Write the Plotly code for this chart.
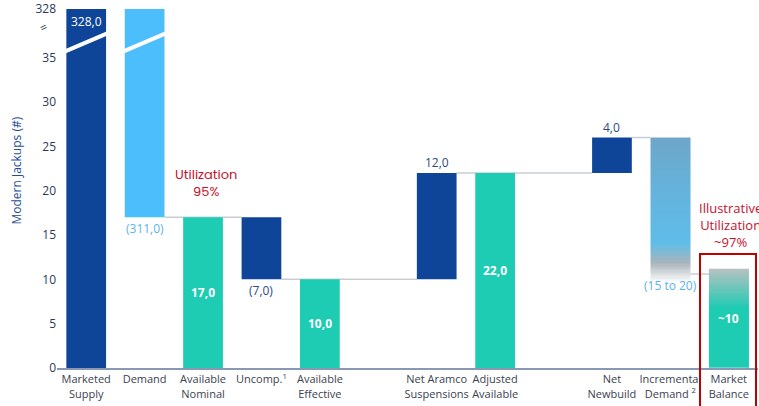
import plotly.graph_objects as go
import numpy as np

# ---- data ----
categories = ["Marketed<br>Supply", "Demand", "Available<br>Nominal", "Uncomp.<sup>1</sup>",
              "Available<br>Effective", "Net Aramco<br>Suspensions", "Adjusted<br>Available",
              "Net<br>Newbuild", "Incremental<br>Demand <sup>2</sup>", "Market<br>Balance"]
positions = [0, 1, 2, 3, 4, 6, 7, 9, 10, 11]
value_labels = ["328,0", "(311,0)", "17,0", "(7,0)", "10,0", "12,0", "22,0", "4,0", "(15 to 20)", "~10"]
# displayed (broken-axis) bar extents
bar_bottom = [0, 17, 0, 10, 0, 10, 0, 22, 9.6, 0]
bar_top = [40.5, 40.5, 17, 17, 10, 22, 22, 26, 26, 11.2]
bar_kind = ["dark", "light", "teal", "dark", "teal", "dark", "teal", "dark", "grad_blue", "grad_teal"]
label_place = ["top_in", "below", "mid", "below", "mid", "above", "mid", "above", "below", "mid"]
y_ticks = [0, 5, 10, 15, 20, 25, 30, 35, 40.5]
y_ticktext = ["0", "5", "10", "15", "20", "25", "30", "35", "328"]
connector_from = [1, 3, 5, 7, 8]   # index in lists
connector_to = [3, 5, 7, 8, 9]
connector_level = [17, 10, 22, 26, 10.6]

DARK = "#0e4598"
LIGHT = "#4cbefc"
TEAL = "#1ecbb3"
W = 0.68
colors = {"dark": DARK, "light": LIGHT, "teal": TEAL}

fig = go.Figure()

# solid bars
for k in ["dark", "light", "teal"]:
    idx = [i for i, b in enumerate(bar_kind) if b == k]
    fig.add_trace(go.Bar(
        x=[positions[i] for i in idx],
        y=[bar_top[i] - bar_bottom[i] for i in idx],
        base=[bar_bottom[i] for i in idx],
        width=W, marker=dict(color=colors[k], line=dict(width=0)),
        hoverinfo="skip", showlegend=False))

# gradient bars via heatmap
def grad_bar(i, colorscale):
    n = 120
    y_edges = np.linspace(bar_bottom[i], bar_top[i], n + 1)
    yc = (y_edges[:-1] + y_edges[1:]) / 2
    z = [[v, v] for v in yc]
    x_edges = [positions[i] - W / 2, positions[i], positions[i] + W / 2]
    fig.add_trace(go.Heatmap(x=x_edges, y=y_edges, z=z, colorscale=colorscale,
                             zmin=bar_bottom[i], zmax=bar_top[i], showscale=False,
                             hoverinfo="skip", zsmooth=False))

grad_bar(8, [[0, "#ffffff"], [0.134, "#aab4ba"], [0.27, "#5fbde8"], [0.6, "#64b4de"], [1, "#6ea6c8"]])
grad_bar(9, [[0, TEAL], [0.6, TEAL], [1, "#b8c1c2"]])

shapes = []
# connectors
for a, b, lv in zip(connector_from, connector_to, connector_level):
    shapes.append(dict(type="line", xref="x", yref="y", x0=positions[a] + W / 2, x1=positions[b] - W / 2,
                       y0=lv, y1=lv, line=dict(color="#c9cdd3", width=1.5), layer="below"))
# axis break marks across first two bars
for p in [positions[0], positions[1]]:
    shapes.append(dict(type="line", xref="x", yref="y", x0=p - 0.40, x1=p + 0.38,
                       y0=35.6, y1=37.8, line=dict(color="white", width=4), layer="above"))
# red box around market balance
shapes.append(dict(type="rect", xref="paper", yref="paper", x0=(700 - 57) / 701, x1=(756 - 57) / 701,
                   y0=-0.2, y1=(368 - 254) / 359, line=dict(color="#c00000", width=2),
                   fillcolor="rgba(0,0,0,0)"))

ann = []
for i, lab in enumerate(value_labels):
    pl = label_place[i]
    x = positions[i]
    if pl == "mid":
        ann.append(dict(x=x, y=(bar_bottom[i] + bar_top[i]) / 2, text="<b>" + lab + "</b>",
                        showarrow=False, font=dict(color="white", size=12)))
    elif pl == "top_in":
        ann.append(dict(x=x, y=bar_top[i], yanchor="top", yshift=-2, text=lab, showarrow=False,
                        font=dict(color="white", size=12)))
    elif pl == "above":
        ann.append(dict(x=x, y=bar_top[i], yanchor="bottom", yshift=0, text=lab, showarrow=False,
                        font=dict(color="#2a4a86", size=12)))
    elif pl == "below":
        col = "#2a4a86" if bar_kind[i] == "dark" else "#5ab4ea"
        yb = bar_bottom[i] if bar_kind[i] != "grad_blue" else 10.6
        ann.append(dict(x=x, y=yb, yanchor="top", yshift=-1, text=lab, showarrow=False,
                        font=dict(color=col, size=12)))

ann.append(dict(x=2.05, y=20.9, text="Utilization<br>95%", showarrow=False,
                font=dict(color="#c8102e", size=13, family="Poppins, Open Sans, sans-serif")))
ann.append(dict(x=11.03, y=16.1, text="Illustrative<br>Utilization<br>~97%", showarrow=False,
                font=dict(color="#c8102e", size=13)))
ann.append(dict(xref="paper", yref="paper", x=(17 - 57) / 701, xanchor="center", y=0.55,
                yanchor="middle", text="Modern Jackups (#)",
                textangle=-90, showarrow=False, font=dict(color="#1f4f9a", size=12)))
ann.append(dict(xref="paper", yref="y", x=(43 - 57) / 701, xanchor="center", y=38.4, text="=",
                textangle=-25, showarrow=False, font=dict(color="#2b3a5c", size=12)))

fig.update_layout(
    width=759, height=406, margin=dict(l=57, r=1, t=9, b=38),
    plot_bgcolor="white", paper_bgcolor="white",
    font=dict(family="Open Sans, sans-serif", color="#333c4e"),
    barmode="overlay", shapes=shapes, annotations=ann, showlegend=False,
    xaxis=dict(range=[-0.5, 11.5], tickvals=positions, ticktext=categories, showgrid=False,
               zeroline=False, showline=True, linecolor="#8799b3", linewidth=2, ticks="",
               tickfont=dict(size=11, color="#3a4250")),
    yaxis=dict(range=[0, 40.5], tickvals=y_ticks, ticktext=y_ticktext, showgrid=False,
               zeroline=False, showline=False, ticks="", tickfont=dict(size=12, color="#2b3a5c")),
)

fig.write_html("out.html")
